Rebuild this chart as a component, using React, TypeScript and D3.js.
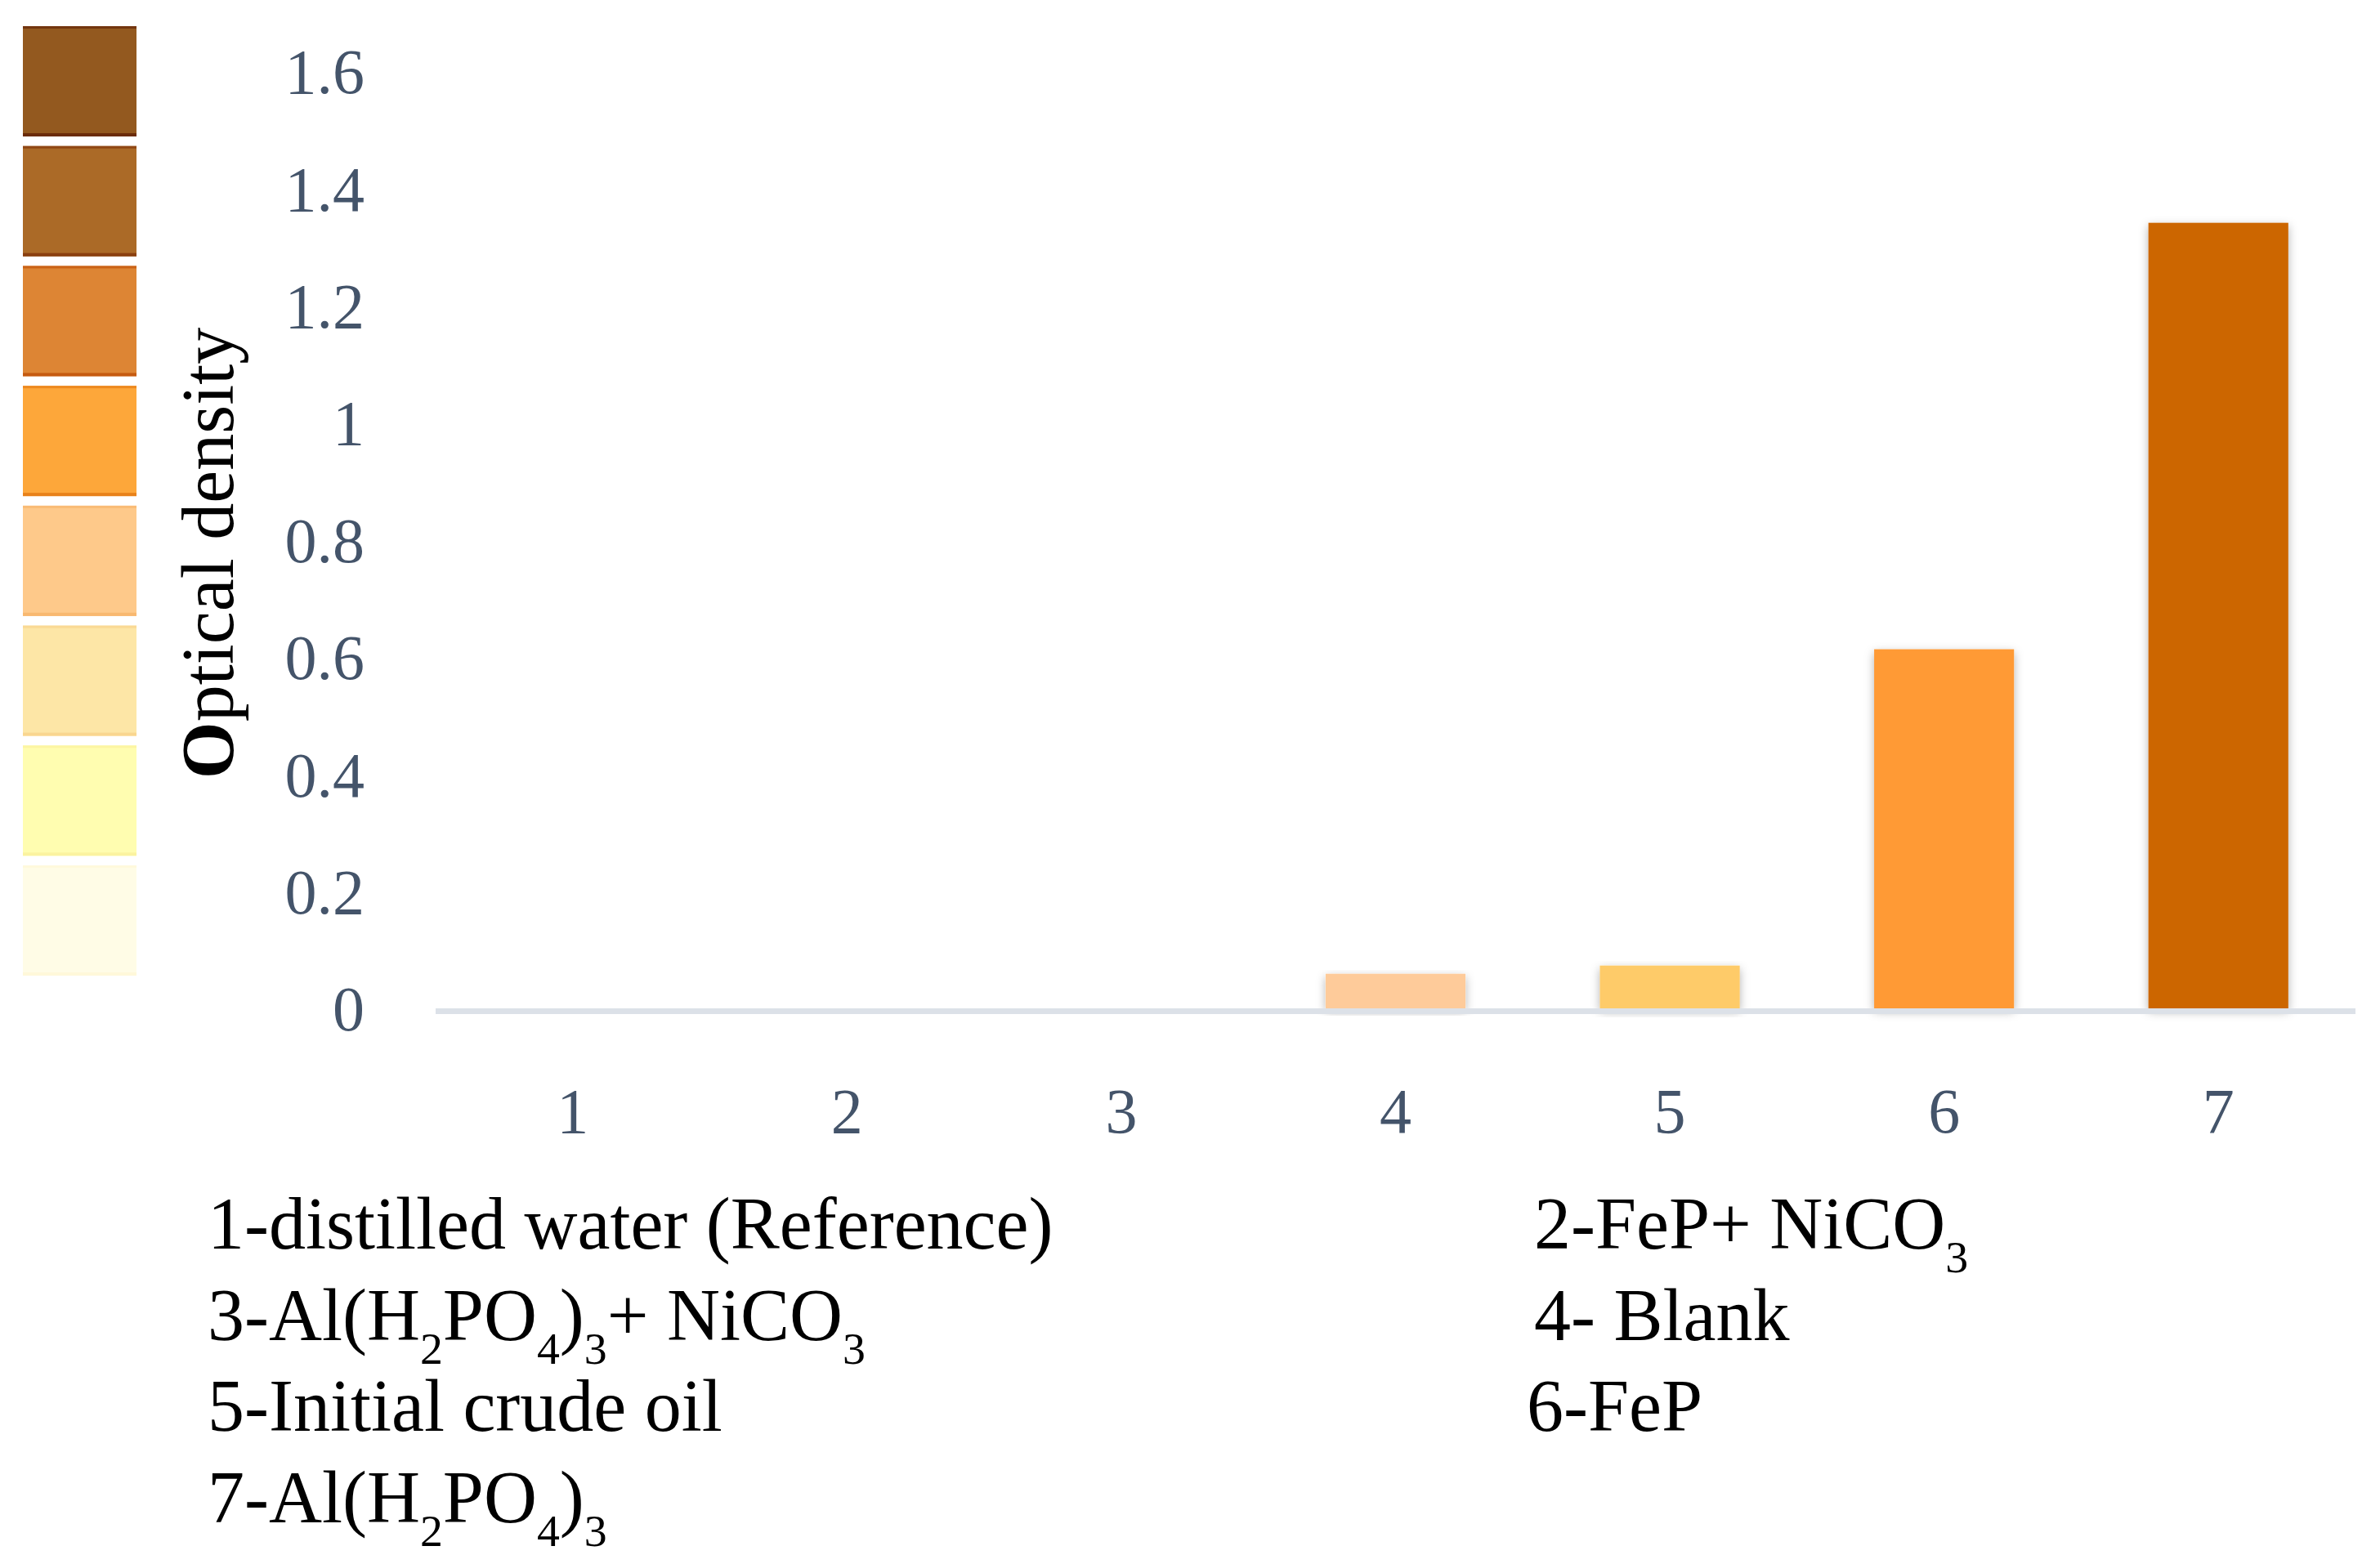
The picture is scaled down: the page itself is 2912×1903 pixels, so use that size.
import React from "react";
import * as d3 from "d3";

const categories = ["1", "2", "3", "4", "5", "6", "7"];
const values = [0, 0, 0, 0.059, 0.073, 0.613, 1.341];
const barColors = ["#FFE9C8", "#FFD9A8", "#FECB9A", "#FECB9A", "#FECB69", "#FF9A36", "#CC6600"];
const yTickValues = [0, 0.2, 0.4, 0.6, 0.8, 1, 1.2, 1.4, 1.6];
const yTickLabels = ["0", "0.2", "0.4", "0.6", "0.8", "1", "1.2", "1.4", "1.6"];
const swatchFills = ["#93591F", "#AB6A27", "#DD8534", "#FDA73A", "#FEC98A", "#FDE6A6", "#FFFDB0", "#FFFCE6"];
const swatchEdges = ["#6B2C0A", "#8A3F10", "#C55A10", "#E8821A", "#F8B870", "#F9D690", "#FBF3A0", "#FFF8DA"];
const legendLeft = ["1-distilled water (Reference)", "3-Al(H_2PO_4)_3+ NiCO_3", "5-Initial crude oil", "7-Al(H_2PO_4)_3"];
const legendRight = ["2-FeP+ NiCO_3", "4- Blank", "6-FeP"];

const W = 2912;
const H = 1903;
const FONT = "'Liberation Serif', 'Times New Roman', serif";

function parseSub(s: string) {
  const parts: { t: string; sub: boolean }[] = [];
  let buf = "";
  for (let i = 0; i < s.length; i++) {
    if (s[i] === "_" && i + 1 < s.length) {
      if (buf) parts.push({ t: buf, sub: false });
      buf = "";
      parts.push({ t: s[i + 1], sub: true });
      i++;
    } else buf += s[i];
  }
  if (buf) parts.push({ t: buf, sub: false });
  return parts;
}

function RichText({ x, y, text, size }: { x: number; y: number; text: string; size: number }) {
  const parts = parseSub(text);
  const off = size * 0.32;
  let shifted = false;
  return (
    <text x={x} y={y} fontFamily={FONT} fontSize={size} fill="#000">
      {parts.map((p, i) => {
        let dy = 0;
        if (p.sub && !shifted) { dy = off; shifted = true; }
        else if (!p.sub && shifted) { dy = -off; shifted = false; }
        return (
          <tspan key={i} dy={dy} fontSize={p.sub ? size * 0.62 : size}>{p.t}</tspan>
        );
      })}
    </text>
  );
}

export default function App() {
  const x = d3.scaleBand<string>().domain(categories).range([533, 2882]).paddingInner(0.49).paddingOuter(0.245);
  const y = d3.scaleLinear().domain([0, 1.6]).range([1234, 87]);
  const strip = d3.scaleBand<number>().domain(d3.range(swatchFills.length)).range([32, 1194]).paddingInner(0.08);

  return (
    <svg width={W} height={H} style={{ position: "absolute", left: 0, top: 0, background: "#fff" }}>
      <defs>
        <filter id="shadow" x="-30%" y="-10%" width="160%" height="130%">
          <feDropShadow dx="0" dy="4" stdDeviation="6" floodColor="#000" floodOpacity="0.3" />
        </filter>
      </defs>
      <rect width={W} height={H} fill="#fff" />
      {/* color strip */}
      {swatchFills.map((c, i) => (
        <g key={i}>
          <rect x={28} y={strip(i)!} width={139} height={strip.bandwidth()} fill={c} />
          <rect x={28} y={strip(i)!} width={139} height={3} fill={swatchEdges[i]} opacity={0.8} />
          <rect x={28} y={strip(i)! + strip.bandwidth() - 4} width={139} height={4} fill={swatchEdges[i]} />
        </g>
      ))}
      {/* bars */}
      {values.map((v, i) =>
        v > 0 ? (
          <rect key={i} x={x(categories[i])!} y={y(v)} width={x.bandwidth()} height={y(0) - y(v)} fill={barColors[i]} filter="url(#shadow)" />
        ) : null
      )}
      {/* axis line */}
      <rect x={533} y={y(0)} width={2882 - 533} height={7} fill="#DCE1E8" />
      {/* y ticks */}
      {yTickValues.map((t, i) => (
        <text key={t} x={446} y={y(t)} dy="0.35em" textAnchor="end" fontFamily={FONT} fontSize={78} fill="#44546A">{yTickLabels[i]}</text>
      ))}
      {/* x ticks */}
      {categories.map((c) => (
        <text key={c} x={x(c)! + x.bandwidth() / 2} y={1359} dy="0.35em" textAnchor="middle" fontFamily={FONT} fontSize={78} fill="#44546A">{c}</text>
      ))}
      {/* y title */}
      <text transform={`translate(253,${y(0.777)}) rotate(-90)`} textAnchor="middle" dy="0.35em" fontFamily={FONT} fontSize={90} fill="#000">
        <tspan fontWeight="bold">O</tspan>ptical density
      </text>
      {/* legend */}
      {legendLeft.map((s, i) => (
        <RichText key={s} x={254} y={1528 + i * 111.7} text={s} size={90} />
      ))}
      {legendRight.map((s, i) => (
        <RichText key={s} x={i === 2 ? 1868 : 1877} y={1528 + i * 111.7} text={s} size={90} />
      ))}
    </svg>
  );
}
